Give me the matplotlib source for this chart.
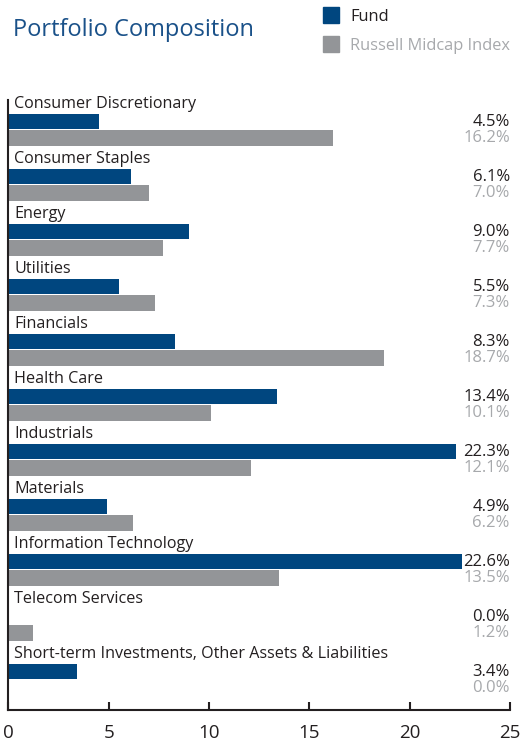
import matplotlib.pyplot as plt
from matplotlib.patches import Rectangle

plt.rcParams['font.family'] = ['Open Sans', 'DejaVu Sans']

sectors = [
    "Consumer Discretionary", "Consumer Staples", "Energy", "Utilities",
    "Financials", "Health Care", "Industrials", "Materials",
    "Information Technology", "Telecom Services",
    "Short-term Investments, Other Assets & Liabilities",
]
fund = [4.5, 6.1, 9.0, 5.5, 8.3, 13.4, 22.3, 4.9, 22.6, 0.0, 3.4]
index = [16.2, 7.0, 7.7, 7.3, 18.7, 10.1, 12.1, 6.2, 13.5, 1.2, 0.0]
xticks = [0, 5, 10, 15, 20, 25]

NAVY = "#00467f"
GRAY = "#939598"
LABEL_GRAY = "#a7a9ac"

fig = plt.figure(figsize=(5.30, 7.41), dpi=100)
ax = fig.add_axes([0.016, 0.042, 0.946, 0.823])

bh = 0.28
for i, (name, f, r) in enumerate(zip(sectors, fund, index)):
    ax.barh(i + 0.395, f, height=bh, color=NAVY)
    ax.barh(i + 0.69, r, height=bh, color=GRAY)
    ax.text(0.3, i + 0.07, name, fontsize=11.6, va="center", ha="left", color="#231f20")
    ax.text(25, i + 0.395, f"{f:.1f}%", fontsize=12, va="center", ha="right", color="#231f20")
    ax.text(25, i + 0.69, f"{r:.1f}%", fontsize=12, va="center", ha="right", color=LABEL_GRAY)

ax.set_xlim(0, 25)
ax.set_ylim(11.09, 0)
ax.set_xticks(xticks)
ax.set_yticks([])
ax.tick_params(axis="x", direction="in", length=6, width=1.5, labelsize=13.5,
               pad=10, colors="#231f20")
for s in ["top", "right"]:
    ax.spines[s].set_visible(False)
for s in ["left", "bottom"]:
    ax.spines[s].set_linewidth(1.5)
    ax.spines[s].set_color("#231f20")
ax.set_facecolor("none")

fig.text(0.024, 0.959, "Portfolio Composition", fontsize=17, color="#1a5189",
         va="center", ha="left")

# legend swatches
fig.add_artist(Rectangle((323 / 530, 1 - 23 / 741), 16 / 530, 16 / 741,
                         transform=fig.transFigure, color=NAVY))
fig.add_artist(Rectangle((323 / 530, 1 - 52 / 741), 16 / 530, 16 / 741,
                         transform=fig.transFigure, color=GRAY))
fig.text(350 / 530, 1 - 17 / 741, "Fund", fontsize=11.8, color="#231f20", va="center")
fig.text(350 / 530, 1 - 46 / 741, "Russell Midcap Index", fontsize=11.8,
         color=LABEL_GRAY, va="center")

fig.savefig("out.png", dpi=100)
